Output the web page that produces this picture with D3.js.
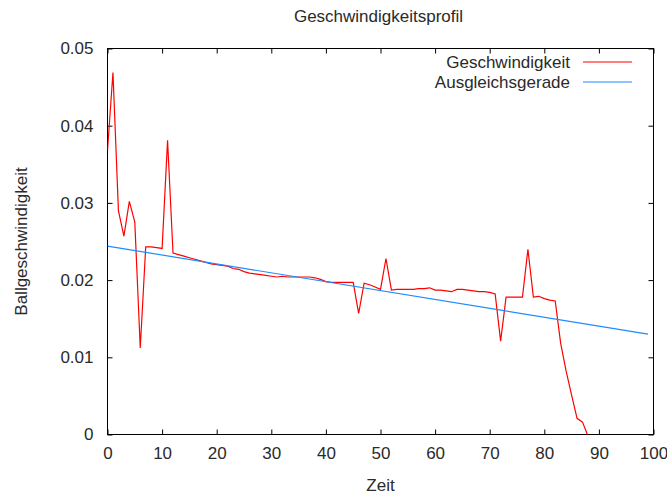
<!DOCTYPE html>
<html>
<head>
<meta charset="utf-8">
<script src="https://cdn.jsdelivr.net/npm/d3@7/dist/d3.min.js"></script>
<style>
  html, body { margin: 0; padding: 0; background: #fff; }
  svg { display: block; font-family: "Liberation Sans", Arial, sans-serif; }
</style>
</head>
<body>
<svg id="chart" width="667" height="495"></svg>
<script>
// Measured ball speed per time step
const zeit = d3.range(0, 89);
const geschwindigkeit = [
  0.0368, 0.0469, 0.0290, 0.0257, 0.0302, 0.0275, 0.0112, 0.0243, 0.0243, 0.0242,
  0.0241, 0.0381, 0.0235, 0.0233, 0.0231, 0.0229, 0.0227, 0.0225, 0.0223, 0.0221,
  0.0220, 0.0219, 0.0218, 0.0215, 0.0214, 0.0211, 0.0209, 0.0208, 0.0207, 0.0206,
  0.0205, 0.0204, 0.0205, 0.0204, 0.0204, 0.0204, 0.0204, 0.0204, 0.0203, 0.0201,
  0.0198, 0.0197, 0.0197, 0.0197, 0.0197, 0.0197, 0.0157, 0.0196, 0.0194, 0.0191,
  0.0188, 0.0228, 0.0187, 0.0188, 0.0188, 0.0188, 0.0188, 0.0189, 0.0189, 0.0190,
  0.0187, 0.0187, 0.0186, 0.0185, 0.0188, 0.0188, 0.0187, 0.0186, 0.0185, 0.0185,
  0.0184, 0.0182, 0.0121, 0.0178, 0.0178, 0.0178, 0.0178, 0.0240, 0.0178, 0.0179,
  0.0176, 0.0174, 0.0173, 0.0118, 0.0082, 0.0051, 0.0021, 0.0016, -0.0002
];

// Regression line end points
const ausgleichX = [0, 99];
const ausgleichY = [0.0244, 0.0130];

// Tick labels
const xTicks = [0, 10, 20, 30, 40, 50, 60, 70, 80, 90, 100];
const yTicks = [0, 0.01, 0.02, 0.03, 0.04, 0.05];
const yTickLabels = ["0", "0.01", "0.02", "0.03", "0.04", "0.05"];

const svg = d3.select("#chart");
const plotLeft = 107.5, plotRight = 653.5, plotTop = 48.5, plotBottom = 434.5;

const x = d3.scaleLinear().domain([0, 100]).range([plotLeft, plotRight]);
const y = d3.scaleLinear().domain([0, 0.05]).range([plotBottom, plotTop]);

const textColor = "#2a2a2a";
const fontSize = 17;

// Clip region for the data
svg.append("defs").append("clipPath").attr("id", "plot-clip")
  .append("rect")
  .attr("x", plotLeft).attr("y", plotTop)
  .attr("width", plotRight - plotLeft).attr("height", plotBottom - plotTop);

// Inward ticks on all four sides
const tickLen = 5;
const axisG = svg.append("g");
const bottomAxis = d3.axisBottom(x).tickValues(xTicks).tickSizeInner(-tickLen).tickSizeOuter(0).tickPadding(12);
const topAxis = d3.axisTop(x).tickValues(xTicks).tickSizeInner(-tickLen).tickSizeOuter(0).tickFormat("");
const leftAxis = d3.axisLeft(y).tickValues(yTicks).tickSizeInner(-tickLen).tickSizeOuter(0).tickPadding(14)
  .tickFormat((d, i) => yTickLabels[i]);
const rightAxis = d3.axisRight(y).tickValues(yTicks).tickSizeInner(-tickLen).tickSizeOuter(0).tickFormat("");

function styleAxis(g) {
  g.select(".domain").remove();
  g.selectAll(".tick line").attr("stroke", "#000").attr("stroke-width", 1);
  g.selectAll(".tick text")
    .attr("fill", textColor)
    .style("font-size", fontSize + "px")
    .style("font-family", "Liberation Sans, Arial, sans-serif");
}

axisG.append("g").attr("transform", `translate(0,${plotBottom})`).call(bottomAxis).call(styleAxis);
axisG.append("g").attr("transform", `translate(0,${plotTop})`).call(topAxis).call(styleAxis);
axisG.append("g").attr("transform", `translate(${plotLeft},0)`).call(leftAxis).call(styleAxis);
axisG.append("g").attr("transform", `translate(${plotRight},0)`).call(rightAxis).call(styleAxis);

// Frame
svg.append("rect")
  .attr("x", plotLeft).attr("y", plotTop)
  .attr("width", plotRight - plotLeft).attr("height", plotBottom - plotTop)
  .attr("fill", "none").attr("stroke", "#000").attr("stroke-width", 1);

// Series
const line = d3.line().x(d => x(d[0])).y(d => y(d[1]));
const plot = svg.append("g").attr("clip-path", "url(#plot-clip)");

plot.append("path")
  .datum(d3.zip(zeit, geschwindigkeit))
  .attr("d", line)
  .attr("fill", "none")
  .attr("stroke", "#ff0000")
  .attr("stroke-width", 1.2);

plot.append("path")
  .datum(d3.zip(ausgleichX, ausgleichY))
  .attr("d", line)
  .attr("fill", "none")
  .attr("stroke", "#1e8cff")
  .attr("stroke-width", 1.2);

// Legend
const legend = [
  { name: "Geschwindigkeit", color: "#ff0000" },
  { name: "Ausgleichsgerade", color: "#1e8cff" }
];
const lg = svg.append("g");
legend.forEach((d, i) => {
  const ly = 62 + i * 20;
  lg.append("text")
    .attr("x", 570).attr("y", ly).attr("dy", "0.35em")
    .attr("text-anchor", "end")
    .attr("fill", textColor)
    .style("font-size", fontSize + "px")
    .text(d.name);
  lg.append("line")
    .attr("x1", 583).attr("x2", 632)
    .attr("y1", ly).attr("y2", ly)
    .attr("stroke", d.color).attr("stroke-width", 1.2);
});

// Titles
svg.append("text")
  .attr("x", (plotLeft + plotRight) / 2 - 2).attr("y", 16).attr("dy", "0.35em")
  .attr("text-anchor", "middle")
  .attr("fill", textColor)
  .style("font-size", fontSize + "px")
  .text("Geschwindigkeitsprofil");

svg.append("text")
  .attr("x", (plotLeft + plotRight) / 2).attr("y", 485).attr("dy", "0.35em")
  .attr("text-anchor", "middle")
  .attr("fill", textColor)
  .style("font-size", fontSize + "px")
  .text("Zeit");

svg.append("text")
  .attr("transform", `translate(21,${(plotTop + plotBottom) / 2}) rotate(-90)`)
  .attr("dy", "0.35em")
  .attr("text-anchor", "middle")
  .attr("fill", textColor)
  .style("font-size", fontSize + "px")
  .text("Ballgeschwindigkeit");
</script>
</body>
</html>
